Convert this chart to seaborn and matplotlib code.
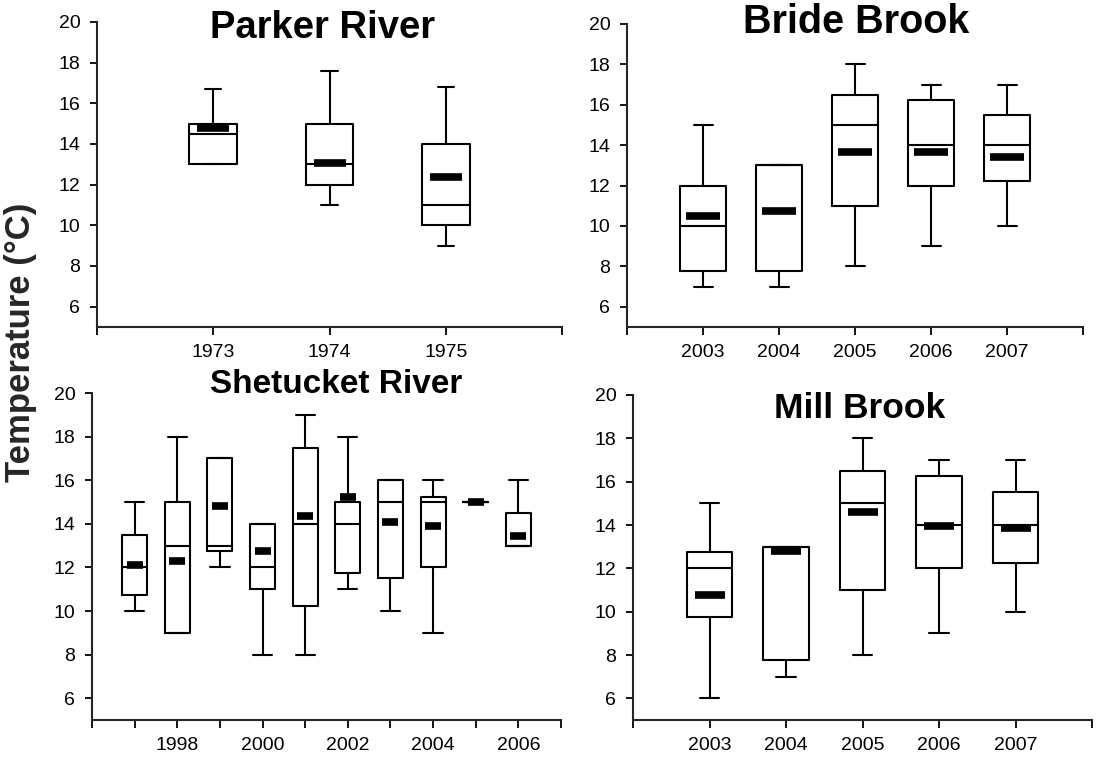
import numpy as np
import pandas as pd
import matplotlib
matplotlib.use("Agg")
import matplotlib.pyplot as plt
import seaborn as sns

# ---------------- data ----------------
parker_years = ["1973", "1974", "1975"]
parker_low = [13, 11, 9]
parker_q1 = [13, 12, 10]
parker_med = [14.5, 13, 11]
parker_q3 = [15, 15, 14]
parker_high = [16.7, 17.6, 16.8]
parker_mean = [14.8, 13.05, 12.4]

bride_years = ["2003", "2004", "2005", "2006", "2007"]
bride_low = [7, 7, 8, 9, 10]
bride_q1 = [7.75, 7.75, 11, 12, 12.25]
bride_med = [10, 13, 15, 14, 14]
bride_q3 = [12, 13, 16.5, 16.25, 15.5]
bride_high = [15, 13, 18, 17, 17]
bride_mean = [10.5, 10.75, 13.65, 13.65, 13.43]

shet_years = ["1997", "1998", "1999", "2000", "2001",
              "2002", "2003", "2004", "2005", "2006"]
shet_low = [10, 9, 12, 8, 8, 11, 10, 9, 15, 13]
shet_q1 = [10.75, 9, 12.75, 11, 10.25, 11.75, 11.5, 12, 15, 13]
shet_med = [12, 13, 13, 12, 14, 14, 15, 15, 15, 13]
shet_q3 = [13.5, 15, 17, 14, 17.5, 15, 16, 15.25, 15, 14.5]
shet_high = [15, 18, 17, 14, 19, 18, 16, 16, 15, 16]
shet_mean = [12.1, 12.3, 14.8, 12.75, 14.35, 15.25, 14.1, 13.88, 15, 13.45]
shet_labels = ["", "1998", "", "2000", "", "2002", "", "2004", "", "2006"]

mill_years = ["2003", "2004", "2005", "2006", "2007"]
mill_low = [6, 7, 8, 9, 10]
mill_q1 = [9.75, 7.75, 11, 12, 12.25]
mill_med = [12, 13, 15, 14, 14]
mill_q3 = [12.75, 13, 16.5, 16.25, 15.5]
mill_high = [15, 13, 18, 17, 17]
mill_mean = [10.75, 12.8, 14.6, 13.95, 13.85]

y_ticks = [6, 8, 10, 12, 14, 16, 18, 20]

# ---------------- style ----------------
sns.set_style("ticks")
plt.rcParams["font.family"] = ["Liberation Sans", "DejaVu Sans"]
plt.rcParams["axes.linewidth"] = 1.5

W, H = 1096, 758
fig = plt.figure(figsize=(W / 100, H / 100), dpi=100)


def add_axes(left, right, top, bottom):
    return fig.add_axes([left / W, 1 - bottom / H, (right - left) / W, (bottom - top) / H])


def panel(ax, years, low, q1, med, q3, high, mean, labels, title, tsize, tx, ty,
          box_w, cap_w, mean_len):
    n = len(years)
    df = pd.DataFrame({
        "year": np.repeat(years, 5),
        "temp": np.column_stack([low, q1, med, q3, high]).ravel(),
    })
    sns.boxplot(data=df, x="year", y="temp", order=years, ax=ax,
                whis=(0, 100), width=box_w, fill=False, color="black",
                linewidth=1.5, showfliers=False, capwidths=cap_w)
    mdf = pd.DataFrame({"year": years, "temp": mean})
    sns.pointplot(data=mdf, x="year", y="temp", order=years, ax=ax,
                  errorbar=None, color="black", linestyle="none",
                  marker="_", markersize=mean_len, markeredgewidth=5.5)
    ax.set_xlim(-1, n)
    ax.set_ylim(5, 20)
    ax.set_xticks(list(range(-1, n + 1)))
    ax.set_xticklabels([""] + list(labels) + [""])
    ax.set_yticks(y_ticks)
    ax.set_yticklabels([str(v) for v in y_ticks])
    ax.tick_params(axis="x", direction="out", length=6, width=1.3,
                   labelsize=14, pad=6, colors="black")
    ax.tick_params(axis="y", direction="out", length=5, width=1.3,
                   labelsize=14, pad=7, colors="black")
    ax.set_xlabel("")
    ax.set_ylabel("")
    sns.despine(ax=ax)
    ax.text(tx, ty, title, transform=ax.transAxes, ha="center",
            va="baseline", fontsize=tsize, fontweight="bold", color="black")


ax1 = add_axes(97, 562, 22, 327)
panel(ax1, parker_years, parker_low, parker_q1, parker_med, parker_q3,
      parker_high, parker_mean, parker_years, "Parker River", 27.5, 0.485, 0.948,
      0.41, 0.14, 23)

ax2 = add_axes(627, 1083, 24, 327)
panel(ax2, bride_years, bride_low, bride_q1, bride_med, bride_q3,
      bride_high, bride_mean, bride_years, "Bride Brook", 28.5, 0.502, 0.97,
      0.6, 0.25, 24)

ax3 = add_axes(92, 561, 393, 720)
panel(ax3, shet_years, shet_low, shet_q1, shet_med, shet_q3,
      shet_high, shet_mean, shet_labels, "Shetucket River", 24, 0.52, 1.0,
      0.59, 0.45, 11)

ax4 = add_axes(633, 1092, 395, 720)
panel(ax4, mill_years, mill_low, mill_q1, mill_med, mill_q3,
      mill_high, mill_mean, mill_years, "Mill Brook", 25.5, 0.494, 0.929,
      0.6, 0.25, 22)

fig.text(21 / W, 1 - 342 / H, "Temperature (°C)", rotation=90,
         ha="center", va="center", fontsize=25, fontweight="bold")

fig.savefig("out.png", dpi=100, facecolor="white")
